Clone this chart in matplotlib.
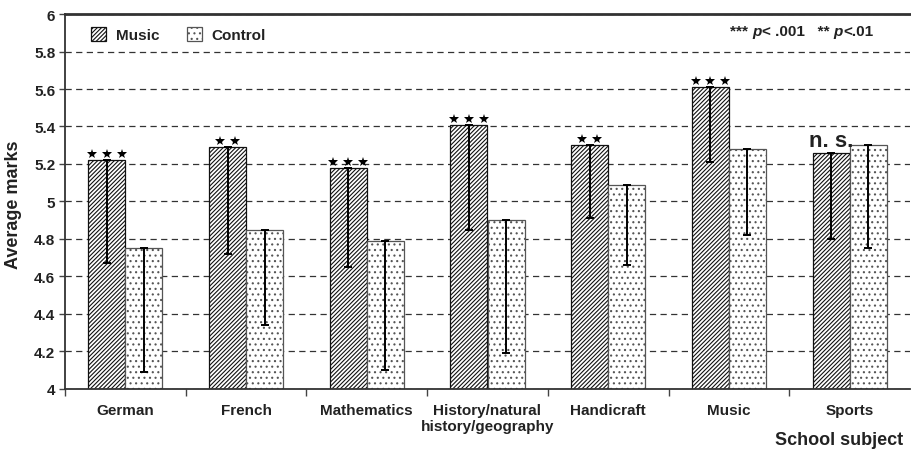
import numpy as np
import matplotlib
matplotlib.use("Agg")
import matplotlib.pyplot as plt
from matplotlib.transforms import offset_copy
from matplotlib.offsetbox import TextArea, HPacker, AnchoredOffsetbox

plt.rcParams['font.family'] = ['Liberation Sans', 'DejaVu Sans']
plt.rcParams['font.weight'] = 'bold'
plt.rcParams['axes.labelweight'] = 'bold'
plt.rcParams['hatch.linewidth'] = 0.8

# values
subjects = ["German", "French", "Mathematics", "History/natural\nhistory/geography",
            "Handicraft", "Music", "Sports"]
music_mean = [5.22, 5.29, 5.18, 5.41, 5.30, 5.61, 5.26]
music_low = [4.67, 4.72, 4.65, 4.85, 4.91, 5.21, 4.80]
control_mean = [4.75, 4.85, 4.79, 4.90, 5.09, 5.28, 5.30]
control_low = [4.09, 4.34, 4.10, 4.19, 4.66, 4.82, 4.75]
signif = ["***", "**", "***", "***", "**", "***", "n. s."]

x = np.arange(1, len(subjects) + 1)
w = 0.307

fig = plt.figure(figsize=(9.11, 4.52), dpi=100)
ax = fig.add_axes([65/911, 1 - 390/452, 845/911, 375/452])

music_err = [np.array(music_mean) - np.array(music_low), np.zeros(len(x))]
control_err = [np.array(control_mean) - np.array(control_low), np.zeros(len(x))]

ekw = dict(elinewidth=1.4, capthick=1.4, ecolor='black')
bm = ax.bar(x - w/2, music_mean, w, color='white', edgecolor='#111111',
            linewidth=0.9, hatch='////////', label='Music',
            yerr=music_err, capsize=3.2, error_kw=ekw)
bc = ax.bar(x + w/2, control_mean, w, color='white', edgecolor='#555555',
            linewidth=0.9, hatch='...', label='Control',
            yerr=control_err, capsize=3.2, error_kw=ekw)

# significance marks above the music bars
star_tr = offset_copy(ax.transData, fig=fig, x=0, y=6, units='dots')
ns_tr = offset_copy(ax.transData, fig=fig, x=0, y=7, units='dots')
for xi, top, s in zip(x, music_mean, signif):
    cx = xi - w/2
    if s.startswith('n'):
        ax.text(cx, top, s, transform=ns_tr, ha='center', va='baseline',
                fontsize=16, color='#222222')
    else:
        n = len(s)
        xs = cx + (np.arange(n) - (n - 1) / 2) * 0.4 * w
        ax.plot(xs, [top] * n, ls='none', marker='*', ms=7, color='black',
                mew=0, transform=star_tr, clip_on=False)

ax.set_xlim(0.5, 7.5)
ax.set_ylim(4, 6)
ax.set_yticks(np.arange(4, 6.01, 0.2))
ax.set_yticklabels(['%g' % round(v, 1) for v in np.arange(4, 6.01, 0.2)])
ax.set_xticks(x)
ax.set_xticklabels(subjects)
ax.set_xticks(np.arange(0.5, 7.0, 1.0), minor=True)
ax.tick_params(axis='x', which='major', length=0, pad=10, labelsize=11,
               labelcolor='#222222')
ax.tick_params(axis='x', which='minor', length=5, width=1, color='#444444',
               direction='out')
ax.tick_params(axis='y', length=4, width=1, color='#444444', pad=3,
               labelsize=11, labelcolor='#222222')

ax.set_axisbelow(True)
ax.yaxis.grid(True, linestyle=(0, (5, 3.5)), color='#333333', linewidth=0.9)

ax.spines['right'].set_visible(False)
ax.spines['top'].set_linewidth(2)
ax.spines['top'].set_color('#333333')
ax.spines['left'].set_linewidth(1.3)
ax.spines['left'].set_color('#333333')
ax.spines['bottom'].set_linewidth(1.3)
ax.spines['bottom'].set_color('#333333')

ax.set_ylabel("Average marks", fontsize=13, color='#222222')
ax.yaxis.set_label_coords(-0.051, 0.493)
ax.set_xlabel("School subject", fontsize=13, color='#222222', loc='right')
ax.xaxis.set_label_coords(1 - 7/845, -0.112)

leg = ax.legend(handles=[bm, bc], labels=['Music', 'Control'], loc='upper left',
                bbox_to_anchor=(0.031, 0.965), ncol=2, frameon=False,
                fontsize=11, handlelength=1.0, handleheight=1.0,
                handletextpad=0.6, columnspacing=1.8, borderpad=0,
                borderaxespad=0)
for t in leg.get_texts():
    t.set_color('#222222')

# p-value key, top right
tp = dict(fontsize=11, fontweight='bold', color='#222222')
ti = dict(fontsize=11, fontweight='bold', fontstyle='italic', color='#222222')
parts = [TextArea("*** ", textprops=tp), TextArea("p", textprops=ti),
         TextArea("< .001   ** ", textprops=tp), TextArea("p", textprops=ti),
         TextArea("<.01", textprops=tp)]
box = HPacker(children=parts, align='baseline', pad=0, sep=0)
anch = AnchoredOffsetbox(loc='upper right', child=box, frameon=False, pad=0,
                         borderpad=0, bbox_to_anchor=(1 - 37/845, 1 - 10/375),
                         bbox_transform=ax.transAxes)
ax.add_artist(anch)

fig.savefig("out.png", dpi=100)
